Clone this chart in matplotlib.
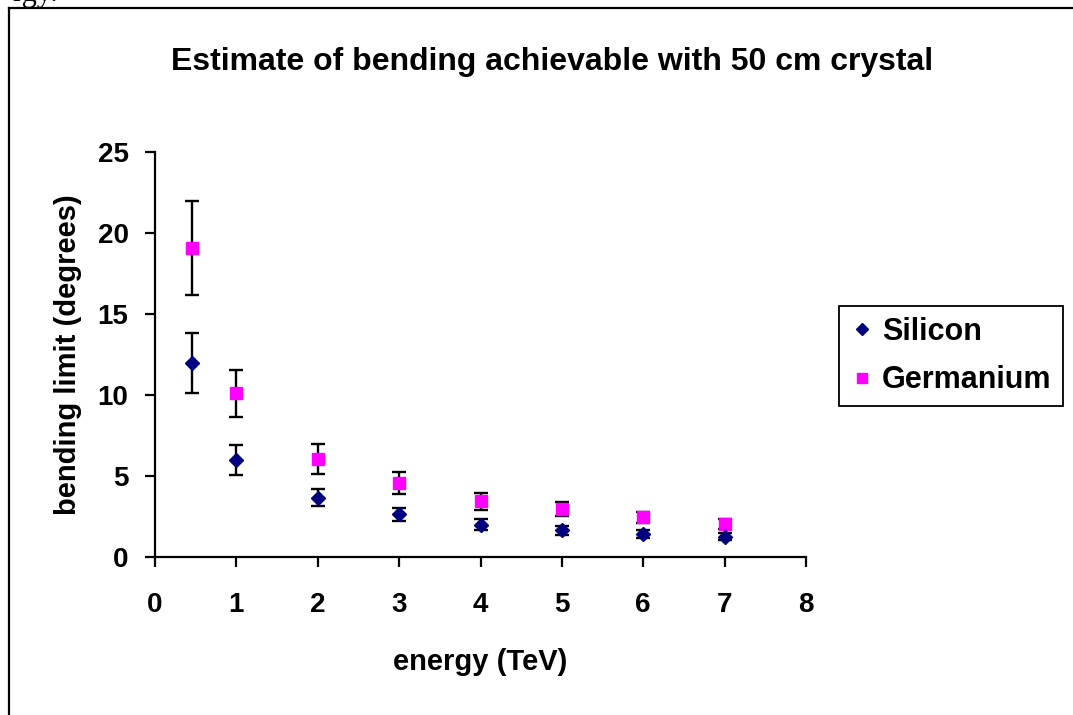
import matplotlib
matplotlib.use("Agg")
from matplotlib import pyplot as plt
from matplotlib.lines import Line2D

# values
energy = [0.45, 1, 2, 3, 4, 5, 6, 7]
silicon = [12.0, 6.0, 3.65, 2.65, 2.0, 1.65, 1.4, 1.25]
silicon_err = [1.85, 0.93, 0.52, 0.4, 0.32, 0.27, 0.25, 0.22]
germanium = [19.1, 10.1, 6.05, 4.55, 3.45, 2.95, 2.45, 2.05]
germanium_err = [2.9, 1.45, 0.93, 0.67, 0.52, 0.43, 0.35, 0.3]
x_ticks = [0, 1, 2, 3, 4, 5, 6, 7, 8]
y_ticks = [0, 5, 10, 15, 20, 25]

W, H = 1073, 715
plt.rcParams["font.family"] = ["Liberation Sans", "DejaVu Sans"]
plt.rcParams["font.weight"] = "bold"

fig = plt.figure(figsize=(W / 100, H / 100), dpi=100)
ax = fig.add_axes([155 / W, 1 - 557 / H, (806 - 155) / W, (557 - 152) / H])

ax.errorbar(energy, germanium, yerr=germanium_err, fmt="s", color="#ff00ff",
            markersize=9, ecolor="black", elinewidth=1.7, capsize=5, capthick=1.7,
            label="Germanium", zorder=3)
ax.errorbar(energy, silicon, yerr=silicon_err, fmt="D", color="#000080",
            markersize=7, ecolor="black", elinewidth=1.7, capsize=5, capthick=1.7,
            label="Silicon", zorder=3)

ax.set_xlim(0, 8)
ax.set_ylim(0, 25)
ax.set_xticks(x_ticks)
ax.set_yticks(y_ticks)
for side in ("top", "right"):
    ax.spines[side].set_visible(False)
for side in ("left", "bottom"):
    ax.spines[side].set_linewidth(1.6)
ax.tick_params(direction="out", length=7, width=1.6, labelsize=20)
ax.tick_params(axis="y", pad=12)
ax.tick_params(axis="x", pad=18)
for lbl in ax.get_xticklabels() + ax.get_yticklabels():
    lbl.set_fontweight("bold")

fig.text(480 / W, 1 - 662 / H, "energy (TeV)", ha="center", va="center",
         fontsize=21, fontweight="bold")
fig.text(68 / W, 1 - 355 / H, "bending limit (degrees)", ha="center", va="center",
         rotation=90, fontsize=21, fontweight="bold")
fig.text(552 / W, 1 - 62 / H, "Estimate of bending achievable with 50 cm crystal",
         ha="center", va="center", fontsize=23, fontweight="bold")

handles = [
    Line2D([], [], marker="D", color="#000080", linestyle="none", markersize=6),
    Line2D([], [], marker="s", color="#ff00ff", linestyle="none", markersize=7),
]
leg = fig.legend(handles, ["Silicon", "Germanium"], loc="upper left",
                 bbox_to_anchor=(839 / W, 1 - 306 / H), fontsize=22,
                 frameon=True, fancybox=False, edgecolor="black",
                 handlelength=0.8, handletextpad=0.25, borderpad=0.36,
                 labelspacing=0.6, borderaxespad=0)
leg.get_frame().set_linewidth(1.3)
leg.get_frame().set_alpha(None)
for t in leg.get_texts():
    t.set_fontweight("bold")

# chart area border (left and top edges visible)
fig.add_artist(Line2D([9 / W, 9 / W], [0, 1 - 8 / H], color="black", lw=1.6))
fig.add_artist(Line2D([9 / W, 1], [1 - 8 / H, 1 - 8 / H], color="black", lw=1.6))
# clipped fragment of document text above the chart
fig.text(12 / W, 1 - 1 / H, "rgy.", family="Liberation Serif", fontweight="normal",
         fontsize=22, va="baseline")

fig.savefig("out.png", dpi=100)
